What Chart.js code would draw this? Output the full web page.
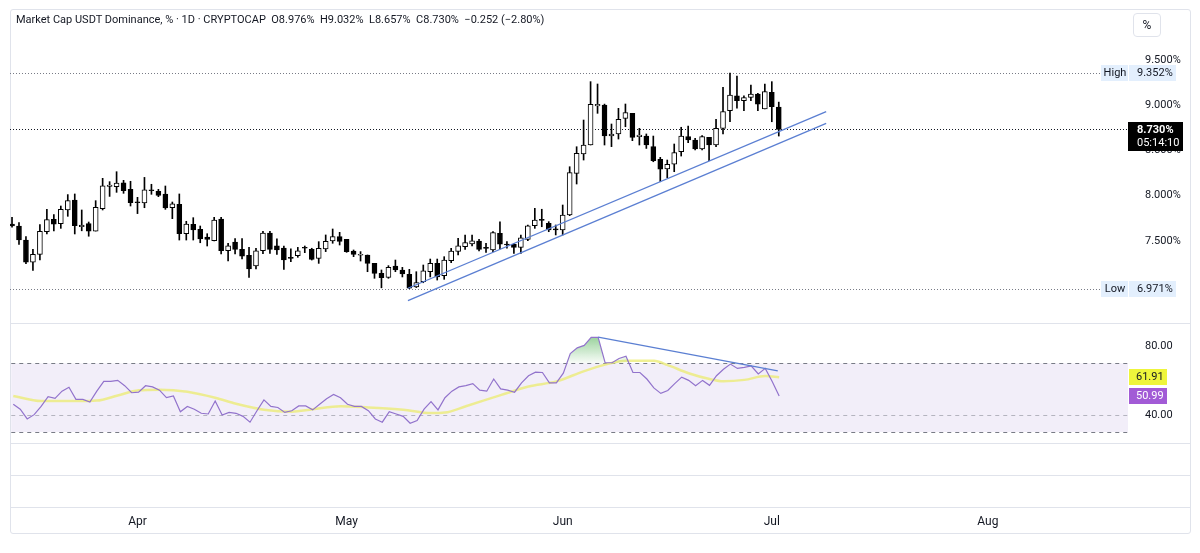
<!DOCTYPE html>
<html>
<head>
<meta charset="utf-8">
<script src="https://cdn.jsdelivr.net/npm/chart.js@4.4.1/dist/chart.umd.min.js"></script>
<style>
  body { margin: 0; background: #fff; }
  #wrap { position: relative; width: 1200px; height: 553px; overflow: hidden; font-family: Roboto, sans-serif; color: #131722; }
  canvas { position: absolute; }
  #frame { position: absolute; left: 10px; top: 9px; width: 1179px; height: 523px; border: 1px solid #e0e3eb; border-radius: 3px; }
  .sep { position: absolute; left: 10px; width: 1180px; height: 1px; background: #e0e3eb; }
  #title { position: absolute; left: 16px; top: 13px; font-size: 11px; white-space: pre; }
  #pct { position: absolute; left: 1133px; top: 13px; width: 26px; height: 22px; border: 1px solid #e0e3eb; border-radius: 4px; font-size: 12px; text-align: center; line-height: 22px; }
</style>
</head>
<body>
<div id="wrap">
  <div id="frame"></div>
  <canvas id="price" width="1180" height="314" style="left:10px;top:9px"></canvas>
  <canvas id="rsi" width="1180" height="120" style="left:10px;top:323px"></canvas>
  <canvas id="axis" width="1180" height="90" style="left:10px;top:443px"></canvas>
  <div class="sep" style="top:323px"></div>
  <div class="sep" style="top:443px"></div>
  <div class="sep" style="top:475px"></div>
  <div class="sep" style="top:507px"></div>
  <div id="title">Market Cap USDT Dominance, % · 1D · CRYPTOCAP  O8.976%  H9.032%  L8.657%  C8.730%  −0.252 (−2.80%)</div>
  <div id="pct">%</div>
</div>
<script>
// daily candles, Mar 14 2025 (index 0) .. Jul 02 2025 (index 110)
const opens = [
  7.685, 7.663, 7.508, 7.262, 7.350, 7.600, 7.737, 7.690, 7.840, 7.950,
  7.655, 7.690, 7.607, 7.855, 8.100, 8.097, 8.141, 8.068, 7.928, 7.917,
  8.064, 8.046, 8.017, 7.865, 7.903, 7.578, 7.682, 7.626, 7.541, 7.500,
  7.740, 7.390, 7.486, 7.405, 7.339, 7.221, 7.390, 7.586, 7.445, 7.420,
  7.313, 7.335, 7.420, 7.405, 7.306, 7.410, 7.497, 7.545, 7.516, 7.387,
  7.340, 7.343, 7.250, 7.140, 7.096, 7.221, 7.177, 7.130, 6.990, 7.048,
  7.158, 7.250, 7.115, 7.280, 7.383, 7.435, 7.464, 7.497, 7.420, 7.398,
  7.582, 7.460, 7.460, 7.427, 7.516, 7.666, 7.730, 7.693, 7.630, 7.619,
  7.785, 8.245, 8.459, 8.558, 8.990, 9.000, 8.657, 8.680, 8.853, 8.908,
  8.650, 8.657, 8.540, 8.400, 8.293, 8.345, 8.484, 8.650, 8.613, 8.514,
  8.643, 8.558, 8.742, 8.937, 9.100, 9.048, 9.085, 9.122, 8.956, 9.140,
  8.976
];
const highs = [
  7.760, 7.700, 7.545, 7.406, 7.680, 7.848, 7.790, 7.884, 8.010, 8.017,
  7.840, 7.707, 7.943, 8.190, 8.153, 8.263, 8.168, 8.157, 7.980, 8.200,
  8.124, 8.068, 8.105, 7.928, 8.017, 7.715, 7.755, 7.663, 7.578, 7.759,
  7.759, 7.472, 7.523, 7.523, 7.427, 7.417, 7.605, 7.605, 7.520, 7.442,
  7.412, 7.427, 7.442, 7.417, 7.490, 7.564, 7.630, 7.593, 7.516, 7.398,
  7.380, 7.343, 7.250, 7.177, 7.225, 7.287, 7.206, 7.184, 7.158, 7.232,
  7.298, 7.298, 7.324, 7.417, 7.527, 7.564, 7.564, 7.516, 7.472, 7.600,
  7.710, 7.490, 7.472, 7.564, 7.674, 7.858, 7.848, 7.711, 7.674, 7.895,
  8.318, 8.539, 8.834, 9.258, 9.232, 9.010, 8.790, 8.963, 9.011, 8.908,
  8.742, 8.680, 8.657, 8.422, 8.392, 8.569, 8.754, 8.768, 8.632, 8.661,
  8.643, 8.842, 9.196, 9.352, 9.320, 9.100, 9.220, 9.129, 9.232, 9.258,
  9.032
];
const lows = [
  7.650, 7.460, 7.246, 7.173, 7.287, 7.575, 7.610, 7.637, 7.770, 7.575,
  7.610, 7.550, 7.607, 7.840, 7.990, 8.035, 8.024, 7.884, 7.800, 7.865,
  8.013, 7.987, 7.847, 7.744, 7.508, 7.508, 7.508, 7.478, 7.442, 7.497,
  7.354, 7.276, 7.354, 7.300, 7.096, 7.190, 7.357, 7.361, 7.350, 7.184,
  7.268, 7.317, 7.368, 7.287, 7.250, 7.380, 7.472, 7.453, 7.372, 7.324,
  7.276, 7.158, 7.085, 6.980, 7.085, 7.158, 7.100, 6.971, 6.983, 7.036,
  7.100, 7.066, 7.074, 7.257, 7.343, 7.405, 7.442, 7.387, 7.370, 7.380,
  7.409, 7.417, 7.361, 7.361, 7.500, 7.637, 7.655, 7.600, 7.564, 7.564,
  7.777, 8.127, 8.392, 8.558, 8.908, 8.558, 8.540, 8.624, 8.760, 8.606,
  8.558, 8.520, 8.373, 8.152, 8.197, 8.263, 8.436, 8.583, 8.503, 8.503,
  8.384, 8.539, 8.680, 8.815, 8.964, 8.937, 9.048, 8.937, 8.956, 8.815,
  8.657
];
const closes = [
  7.663, 7.508, 7.262, 7.350, 7.605, 7.733, 7.682, 7.848, 7.943, 7.666,
  7.672, 7.607, 7.870, 8.108, 8.116, 8.138, 8.053, 7.920, 7.920, 8.064,
  8.053, 8.002, 7.862, 7.909, 7.578, 7.685, 7.619, 7.519, 7.516, 7.729,
  7.390, 7.445, 7.405, 7.331, 7.190, 7.390, 7.586, 7.405, 7.398, 7.287,
  7.306, 7.390, 7.417, 7.295, 7.417, 7.494, 7.545, 7.494, 7.379, 7.350,
  7.343, 7.250, 7.140, 7.092, 7.207, 7.177, 7.133, 6.975, 7.037, 7.169,
  7.250, 7.100, 7.287, 7.387, 7.445, 7.479, 7.500, 7.405, 7.415, 7.589,
  7.461, 7.453, 7.427, 7.533, 7.666, 7.729, 7.725, 7.619, 7.620, 7.785,
  8.252, 8.466, 8.558, 9.008, 9.008, 8.657, 8.680, 8.842, 8.915, 8.643,
  8.668, 8.558, 8.384, 8.290, 8.345, 8.473, 8.657, 8.613, 8.514, 8.650,
  8.558, 8.742, 8.926, 9.110, 9.048, 9.081, 9.122, 9.008, 9.147, 8.982,
  8.730
];
const rsi = [
  46.2, 43.3, 37.6, 40.1, 44.9, 50.6, 49.6, 53.8, 56.1, 49.0,
  49.0, 47.5, 53.8, 59.5, 59.5, 60.1, 57.0, 52.9, 53.2, 57.0,
  56.3, 54.4, 50.0, 51.0, 41.8, 44.9, 43.3, 40.9, 40.5, 48.1,
  39.9, 41.4, 40.9, 39.1, 35.7, 42.4, 48.7, 44.9, 44.3, 41.4,
  42.4, 45.2, 45.2, 42.9, 46.2, 49.4, 51.9, 50.0, 46.2, 44.9,
  44.9, 42.4, 37.6, 35.7, 41.8, 40.5, 39.1, 35.1, 36.7, 43.3,
  47.7, 42.9, 50.0, 53.8, 56.3, 57.0, 58.2, 54.4, 53.8, 60.9,
  55.1, 54.4, 53.2, 58.6, 62.8, 64.9, 64.7, 58.6, 58.6, 64.3,
  75.7, 79.1, 80.5, 85.2, 85.2, 70.4, 70.4, 72.9, 74.2, 64.7,
  64.7, 60.9, 55.7, 52.5, 54.2, 58.2, 62.0, 60.1, 57.0, 60.1,
  57.2, 62.8, 66.6, 69.6, 67.1, 67.7, 68.5, 63.9, 67.1, 59.5,
  50.99
];
// RSI-based moving average, read at these candle indexes
const maIdx = [0, 4, 9, 12, 15, 18, 21, 25, 29, 32, 36, 40, 43, 47, 51, 56, 60, 62, 65, 70, 74, 78, 82, 85, 88, 92, 94, 97, 100, 102, 105, 108, 110];
const maVal = [51, 48, 48, 48.3, 51.3, 54.3, 54.7, 53.5, 50, 46.5, 43, 41.8, 43.2, 45, 44.3, 43, 41, 41.3, 45, 51.5, 56.5, 59.5, 65.5, 69.3, 71.5, 71.5, 69, 64.3, 60.9, 59.6, 60.4, 62.6, 61.91];

const priceTicks = [7.5, 8.0, 8.5, 9.0, 9.5];
const rsiTicks = [80, 40];
const monthLabels = ['Apr', 'May', 'Jun', 'Jul', 'Aug'];
const monthIdx = [18, 48, 79, 109, 140];

// drawings
const channelUpper = [[56.8, 6.975], [116.8, 8.926]];
const channelLower = [[56.8, 6.838], [116.8, 8.798]];
const rsiTrend = [[84, 85.4], [109.8, 65.6]];
const highValue = 9.352;
const lowValue = 6.971;
const countdown = '05:14:10';

const xMin = -0.29, xMax = 160.1;
const AXIS_W = 62;
const FONT = 'Roboto';
const last = closes.length - 1;

Chart.defaults.font.family = FONT;
Chart.defaults.color = '#131722';

function pts(arr) { return arr.map(p => ({x: p[0], y: p[1]})); }

function box(ctx, x, y, w, h, bg) {
  ctx.fillStyle = bg;
  ctx.fillRect(x, y, w, h);
}

// keep the plot area at full canvas height (no label padding)
function fitRight(s) {
  s.width = AXIS_W;
  s.paddingTop = 0;
  s.paddingBottom = 0;
}

const priceOverlay = {
  id: 'priceOverlay',
  beforeDatasetsDraw(chart) {
    const {ctx, chartArea: a, scales: {y}} = chart;
    ctx.save();
    ctx.lineWidth = 1;
    ctx.setLineDash([1, 2]);
    [[highValue, '#787b86'], [lowValue, '#787b86'], [closes[last], '#131722']].forEach(([v, c]) => {
      const py = Math.round(y.getPixelForValue(v)) + 0.5;
      ctx.strokeStyle = c;
      ctx.beginPath();
      ctx.moveTo(a.left, py);
      ctx.lineTo(a.right, py);
      ctx.stroke();
    });
    ctx.restore();
  },
  afterDraw(chart) {
    const {ctx, chartArea: a, scales: {y}} = chart;
    ctx.save();
    ctx.font = '11px ' + FONT;
    ctx.textBaseline = 'middle';
    [['High', highValue], ['Low', lowValue]].forEach(([t, v]) => {
      const py = Math.round(y.getPixelForValue(v));
      box(ctx, a.right - 27, py - 8, 27, 16, '#e3effd');
      box(ctx, a.right + 1, py - 8, 47, 16, '#e3effd');
      ctx.fillStyle = '#131722';
      ctx.textAlign = 'center';
      ctx.fillText(t, a.right - 13, py);
      ctx.textAlign = 'left';
      ctx.fillText(v.toFixed(3) + '%', a.right + 9, py);
    });
    const cy = Math.round(y.getPixelForValue(closes[last]));
    box(ctx, a.right, cy - 7, 55, 29, '#000000');
    ctx.fillStyle = '#ffffff';
    ctx.textAlign = 'left';
    ctx.font = 'bold 11px ' + FONT;
    ctx.fillText(closes[last].toFixed(3) + '%', a.right + 9, cy + 1);
    ctx.font = '11px ' + FONT;
    ctx.fillText(countdown, a.right + 9, cy + 14);
    ctx.restore();
  }
};

const priceChart = new Chart(document.getElementById('price'), {
  type: 'bar',
  data: {
    datasets: [
      {
        label: 'body',
        data: closes.map((c, i) => ({x: i, y: [opens[i], c]})),
        backgroundColor: closes.map((c, i) => c >= opens[i] ? '#ffffff' : '#000000'),
        borderColor: '#000000',
        borderWidth: 1,
        borderSkipped: false,
        barThickness: 5,
        minBarLength: 1,
        grouped: false,
        order: 0
      },
      {
        label: 'wick',
        data: highs.map((h, i) => ({x: i, y: [lows[i], h]})),
        backgroundColor: '#000000',
        borderWidth: 0,
        barThickness: 1,
        grouped: false,
        order: 1
      },
      {
        type: 'line', label: 'up', data: pts(channelUpper),
        borderColor: '#5b7fd2', borderWidth: 1.3, pointRadius: 0, order: -1
      },
      {
        type: 'line', label: 'lo', data: pts(channelLower),
        borderColor: '#5b7fd2', borderWidth: 1.3, pointRadius: 0, order: -1
      }
    ]
  },
  options: {
    responsive: false,
    animation: false,
    layout: {padding: 0},
    plugins: {legend: {display: false}, tooltip: {enabled: false}},
    scales: {
      x: {type: 'linear', min: xMin, max: xMax, offset: false, display: false},
      y: {
        position: 'right',
        min: 6.5912, max: 10.0608,
        afterFit: fitRight,
        afterBuildTicks(s) { s.ticks = priceTicks.map(v => ({value: v})); },
        grid: {display: false},
        border: {display: false},
        ticks: {padding: 9, font: {size: 11}, color: '#131722', callback: v => v.toFixed(3) + '%'}
      }
    }
  },
  plugins: [priceOverlay]
});

const rsiOverlay = {
  id: 'rsiOverlay',
  beforeDatasetsDraw(chart) {
    const {ctx, chartArea: a, scales: {y}} = chart;
    ctx.save();
    const top = y.getPixelForValue(70), bot = y.getPixelForValue(30);
    ctx.fillStyle = 'rgba(126,87,194,0.1)';
    ctx.fillRect(a.left, top, a.right - a.left, bot - top);
    ctx.setLineDash([4, 4]);
    ctx.lineWidth = 1;
    [[70, '#787b86'], [40, 'rgba(120,123,134,0.5)'], [30, '#787b86']].forEach(([v, c]) => {
      const py = Math.round(y.getPixelForValue(v)) + 0.5;
      ctx.strokeStyle = c;
      ctx.beginPath();
      ctx.moveTo(a.left, py);
      ctx.lineTo(a.right, py);
      ctx.stroke();
    });
    ctx.restore();
  },
  afterDraw(chart) {
    const {ctx, chartArea: a, scales: {y}} = chart;
    ctx.save();
    ctx.font = '11px ' + FONT;
    ctx.textBaseline = 'middle';
    ctx.textAlign = 'left';
    [[maVal[maVal.length - 1], '#eef53c', '#131722'], [rsi[last], '#a25bd6', '#ffffff']].forEach(([v, bg, fg]) => {
      const py = Math.round(y.getPixelForValue(v));
      box(ctx, a.right + 1, py - 8, 38, 16, bg);
      ctx.fillStyle = fg;
      ctx.fillText(v.toFixed(2), a.right + 8, py);
    });
    ctx.restore();
  }
};

const rsiChart = new Chart(document.getElementById('rsi'), {
  type: 'line',
  data: {
    datasets: [
      {
        label: 'RSI',
        data: rsi.map((v, i) => ({x: i, y: v})),
        borderColor: '#9273cc',
        borderWidth: 1.2,
        pointRadius: 0,
        fill: {target: {value: 70}, above: 'rgba(76,175,80,0.4)', below: 'rgba(0,0,0,0)'},
        order: 1
      },
      {
        label: 'MA',
        data: maIdx.map((x, i) => ({x: x, y: maVal[i]})),
        borderColor: 'rgba(236,236,120,0.8)',
        borderWidth: 2.5,
        pointRadius: 0,
        cubicInterpolationMode: 'monotone',
        order: 2
      },
      {
        label: 'trend',
        data: pts(rsiTrend),
        borderColor: '#5b7fd2',
        borderWidth: 1.3,
        pointRadius: 0,
        order: 0
      }
    ]
  },
  options: {
    responsive: false,
    animation: false,
    layout: {padding: 0},
    plugins: {legend: {display: false}, tooltip: {enabled: false}},
    scales: {
      x: {type: 'linear', min: xMin, max: xMax, display: false},
      y: {
        position: 'right',
        min: 24.29, max: 92.86,
        afterFit: fitRight,
        afterBuildTicks(s) { s.ticks = rsiTicks.map(v => ({value: v})); },
        grid: {display: false},
        border: {display: false},
        ticks: {padding: 9, font: {size: 11}, color: '#131722', callback: v => v.toFixed(2)}
      }
    }
  },
  plugins: [rsiOverlay]
});

// overbought gradient
const ys = rsiChart.scales.y;
const grad = rsiChart.ctx.createLinearGradient(0, ys.getPixelForValue(86), 0, ys.getPixelForValue(70));
grad.addColorStop(0, 'rgba(76,175,80,0.6)');
grad.addColorStop(1, 'rgba(76,175,80,0.04)');
rsiChart.data.datasets[0].fill.above = grad;
rsiChart.update('none');

const axisChart = new Chart(document.getElementById('axis'), {
  type: 'line',
  data: {datasets: []},
  options: {
    responsive: false,
    animation: false,
    layout: {padding: {right: AXIS_W}},
    plugins: {legend: {display: false}, tooltip: {enabled: false}},
    scales: {
      x: {
        type: 'linear', min: xMin, max: xMax,
        afterFit(s) { s.height = 26; },
        afterBuildTicks(s) { s.ticks = monthIdx.map(v => ({value: v})); },
        grid: {display: false},
        border: {display: false},
        ticks: {
          padding: 0, autoSkip: false, maxRotation: 0, font: {size: 12}, color: '#131722',
          callback: v => monthLabels[monthIdx.indexOf(v)]
        }
      },
      y: {display: false}
    }
  }
});
</script>
</body>
</html>
